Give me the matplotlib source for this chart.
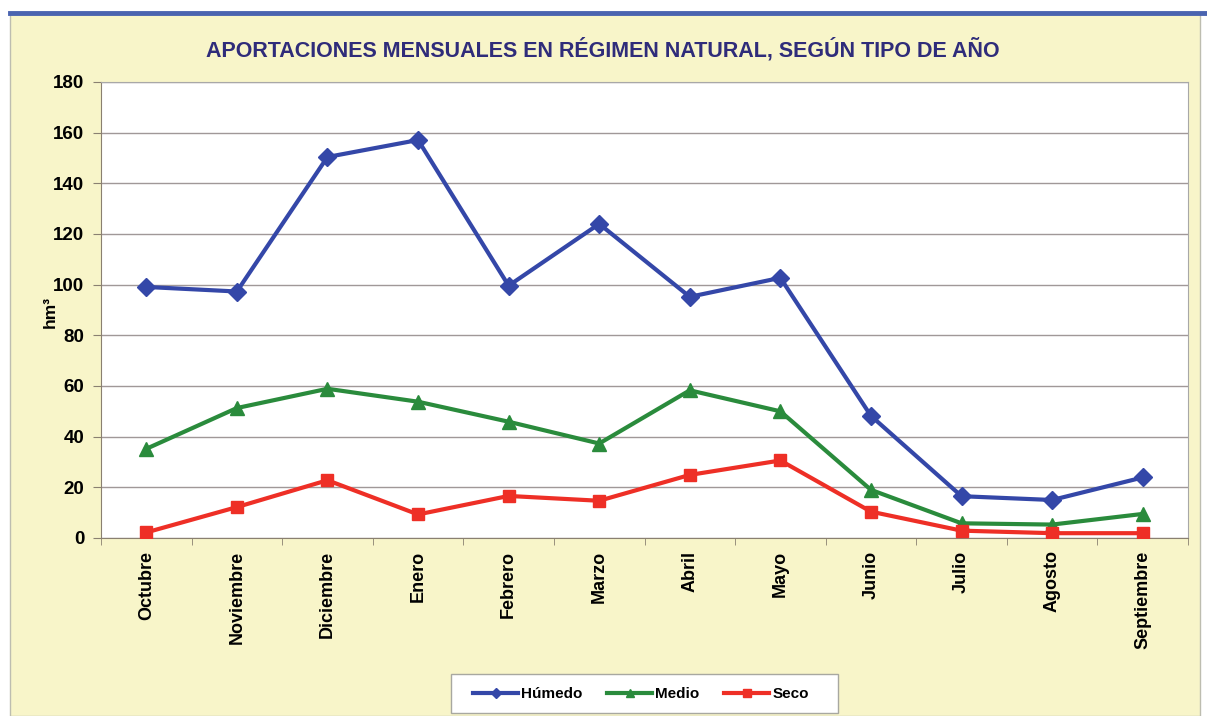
import matplotlib.pyplot as plt
from matplotlib.patches import Rectangle
from matplotlib.lines import Line2D
import numpy as np

plt.rcParams['font.family'] = ['Liberation Sans', 'DejaVu Sans']

months = ['Octubre', 'Noviembre', 'Diciembre', 'Enero', 'Febrero', 'Marzo',
          'Abril', 'Mayo', 'Junio', 'Julio', 'Agosto', 'Septiembre']
humedo = [99.1, 97.3, 150.4, 157.1, 99.6, 124.0, 95.2, 102.7, 48.2, 16.5, 15.0, 23.9]
medio = [35.2, 51.3, 58.9, 53.8, 45.9, 37.3, 58.3, 50.0, 19.0, 5.8, 5.3, 9.5]
seco = [2.2, 12.2, 22.8, 9.3, 16.6, 14.7, 24.9, 30.6, 10.4, 2.9, 1.9, 1.9]

W, H = 1207, 716
fig = plt.figure(figsize=(W / 100, H / 100), dpi=100)
fig.patch.set_facecolor('white')

# yellow panel with blue top band
fig.patches.append(Rectangle((10 / W, 0), 1190 / W, 1 - 14 / H, transform=fig.transFigure,
                             facecolor='#F8F5C9', edgecolor='#BDBDB0', linewidth=1.0, zorder=-10))
fig.lines.append(Line2D([10 / W, 1], [1 - 13 / H, 1 - 13 / H], transform=fig.transFigure,
                        color='#4A64B0', linewidth=3.5, zorder=-9))

ax = fig.add_axes([101 / W, 1 - 538 / H, 1087 / W, 456 / H])
ax.set_facecolor('white')

x = np.arange(len(months))
ax.plot(x, humedo, color='#3447A8', linewidth=3, marker='D', markersize=9, label='Húmedo', zorder=3)
ax.plot(x, medio, color='#2A8B3C', linewidth=3, marker='^', markersize=10, label='Medio', zorder=3)
ax.plot(x, seco, color='#EE2F26', linewidth=3, marker='s', markersize=9, label='Seco', zorder=3)

ax.set_xlim(-0.5, len(months) - 0.5)
ax.set_ylim(0, 180)
ax.set_yticks(range(0, 181, 20))
ax.set_xticks(x)
ax.set_xticklabels(months, rotation=90, fontsize=13, fontweight='bold')
ax.set_xticks(np.arange(-0.5, len(months), 1), minor=True)
ax.tick_params(axis='x', which='major', length=0, pad=9)
ax.tick_params(axis='x', which='minor', length=5, color='#8A8070', direction='out')
ax.tick_params(axis='y', length=6, color='#8A8070', labelsize=13.5, pad=6)
for lbl in ax.get_yticklabels():
    lbl.set_fontweight('bold')

ax.grid(axis='y', color='#A09898', linewidth=1.0)
ax.set_axisbelow(True)
for side in ['left', 'bottom']:
    ax.spines[side].set_color('#8A8070')
for side in ['top', 'right']:
    ax.spines[side].set_color('#A8A8A8')

ax.set_ylabel('hm³', fontsize=12.5, fontweight='bold')
ax.yaxis.set_label_coords(-0.040, 0.495)

fig.text(603 / W, 1 - 50 / H, 'APORTACIONES MENSUALES EN RÉGIMEN NATURAL, SEGÚN TIPO DE AÑO',
         ha='center', va='center', fontsize=15.5, fontweight='bold', color='#2F2C7A')

# legend box
fig.patches.append(Rectangle((451 / W, 1 - 713 / H), 387 / W, 39 / H, transform=fig.transFigure,
                             facecolor='white', edgecolor='#A8A8A0', linewidth=1.0, zorder=1))
leg = fig.legend(loc='center', bbox_to_anchor=(641 / W, 1 - 694 / H), ncol=3, frameon=False,
                 fontsize=11, markerscale=0.6, handlelength=2.95, handletextpad=0.2,
                 columnspacing=1.6)
for t in leg.get_texts():
    t.set_fontweight('bold')
leg.set_zorder(2)

fig.savefig('out.png', dpi=100, facecolor=fig.get_facecolor())
